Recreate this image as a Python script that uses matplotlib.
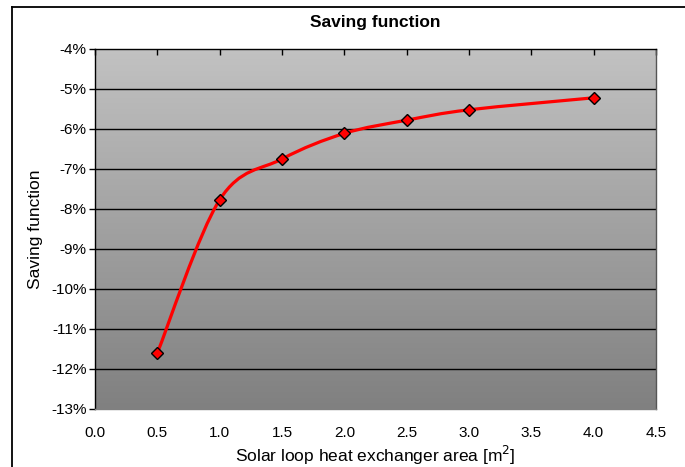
import numpy as np
import matplotlib
matplotlib.use("Agg")
import matplotlib.pyplot as plt
from matplotlib.path import Path
from matplotlib.patches import PathPatch
from matplotlib.lines import Line2D
from matplotlib.ticker import FuncFormatter, MultipleLocator

plt.rcParams['font.family'] = ['Liberation Sans', 'DejaVu Sans']

# Data
area_m2 = [0.5, 1.0, 1.5, 2.0, 2.5, 3.0, 4.0]
saving_pct = [-11.6, -7.77, -6.75, -6.11, -5.78, -5.52, -5.22]

title = "Saving function"
x_label = "Solar loop heat exchanger area [m$^2$]"
y_label = "Saving function"

fig = plt.figure(figsize=(6.85, 4.67), dpi=100)
ax = fig.add_axes([95 / 685, 1 - 409 / 467, 561 / 685, 360 / 467])

ax.set_xlim(0, 4.5)
ax.set_ylim(-13, -4)

# Vertical gradient background (light at top, dark at bottom)
grad = np.linspace(0, 1, 256).reshape(-1, 1)
top_c = np.array([194, 194, 194]) / 255
bot_c = np.array([128, 128, 128]) / 255
img = top_c[None, None, :] * grad[:, :, None] + bot_c[None, None, :] * (1 - grad[:, :, None])
ax.imshow(img, extent=[0, 1, 0, 1], transform=ax.transAxes, aspect='auto',
          origin='lower', zorder=0)

# Horizontal gridlines
for yv in range(-12, -4):
    ax.axhline(yv, color='black', lw=1.0, zorder=1)

# Smoothed curve through the points (cubic Bezier segments, Catmull-Rom style)
pts = np.column_stack([area_m2, saving_pct])
ext = np.vstack([pts[0], pts, pts[-1]])
verts = [tuple(pts[0])]
codes = [Path.MOVETO]
for i in range(len(pts) - 1):
    p0, p1, p2, p3 = ext[i], ext[i + 1], ext[i + 2], ext[i + 3]
    c1 = p1 + (p2 - p0) / 6.0
    c2 = p2 - (p3 - p1) / 6.0
    verts += [tuple(c1), tuple(c2), tuple(p2)]
    codes += [Path.CURVE4, Path.CURVE4, Path.CURVE4]
curve = PathPatch(Path(verts, codes), facecolor='none', edgecolor='#ff0000',
                  lw=2.3, zorder=3, capstyle='round', joinstyle='round')
ax.add_patch(curve)

ax.plot(area_m2, saving_pct, linestyle='none', marker='D', markersize=6,
        markerfacecolor='#ff0000', markeredgecolor='black', markeredgewidth=1.0,
        zorder=4)

# Axes styling
ax.xaxis.set_major_locator(MultipleLocator(0.5))
ax.yaxis.set_major_locator(MultipleLocator(1))
ax.xaxis.set_major_formatter(FuncFormatter(lambda v, p: f"{v:.1f}"))
ax.yaxis.set_major_formatter(FuncFormatter(lambda v, p: f"{int(round(v))}%"))
ax.tick_params(axis='x', which='major', bottom=False, top=True, direction='in',
               length=4, width=1, labelsize=11, pad=12, colors='black')
ax.tick_params(axis='y', which='major', left=True, direction='out', length=4,
               width=1, labelsize=11, pad=2)
ax.spines['top'].set_color('black')
ax.spines['left'].set_color('black')
ax.spines['right'].set_color('#555555')
ax.spines['bottom'].set_color('#808080')
for s in ax.spines.values():
    s.set_linewidth(1.0)
    s.set_zorder(5)

ax.set_xlabel(x_label, fontsize=12.5, labelpad=3)
ax.set_ylabel(y_label, fontsize=12.5, labelpad=6)
fig.text(0.5 * (95 + 656) / 685, 1 - 22 / 467, title, ha='center', va='center',
         fontsize=12.5, fontweight='bold')

# Outer chart frame
fig.add_artist(Line2D([12 / 685, 12 / 685], [0, 1 - 7 / 467], color='black',
                      lw=1.3, transform=fig.transFigure))
fig.add_artist(Line2D([12 / 685, 1], [1 - 7 / 467, 1 - 7 / 467], color='black',
                      lw=1.3, transform=fig.transFigure))

fig.savefig("out.png", dpi=100, facecolor='white')
